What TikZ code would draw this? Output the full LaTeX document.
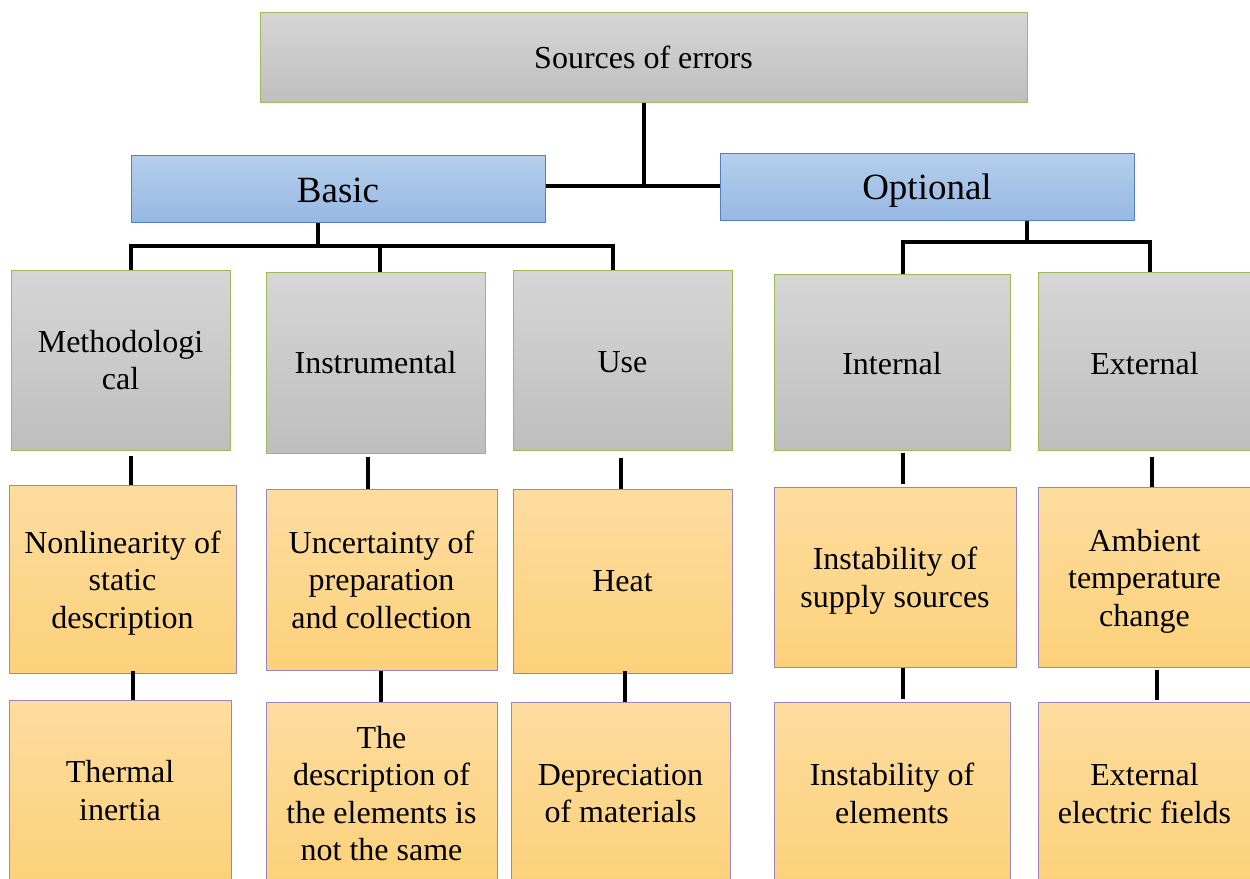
\documentclass[tikz,border=0pt]{standalone}
\usepackage{fontspec}
\newfontfamily\tnr{Liberation Serif}
\definecolor{grayT}{HTML}{D6D6D6}
\definecolor{grayB}{HTML}{BEBEBE}
\definecolor{grayLine}{HTML}{9BBB59}
\definecolor{blueT}{HTML}{B5CFEC}
\definecolor{blueB}{HTML}{97B8E3}
\definecolor{blueLine}{HTML}{4F81BD}
\definecolor{orT}{HTML}{FDDC9F}
\definecolor{orB}{HTML}{FCD17A}
\definecolor{orLine}{HTML}{9C85BD}
\tikzset{
  box/.style={rectangle, line width=1pt, align=center, inner sep=0pt,
    font=\tnr\fontsize{32}{37.5}\selectfont},
  graybox/.style={box, draw=grayLine, top color=grayT, bottom color=grayB},
  bluebox/.style={box, draw=blueLine, top color=blueT, bottom color=blueB,
    font=\tnr\fontsize{37}{42}\selectfont},
  orbox/.style={box, draw=orLine, top color=orT, bottom color=orB},
  conn/.style={line width=4pt, black},
}
\begin{document}
\begin{tikzpicture}[x=1pt, y=-1pt]
\useasboundingbox (0,0) rectangle (1250,878);
\clip (0,0) rectangle (1250,878);
% top
\node[graybox, minimum width=767pt, minimum height=90pt] (src) at (643.5,57) {Sources of errors};
\node[bluebox, minimum width=414pt, minimum height=67pt, text height=29pt] (basic) at (338,188.5) {Basic};
\node[bluebox, minimum width=414pt, minimum height=67pt, text height=33pt] (opt) at (927,186.5) {Optional};
% level 2
\node[graybox, minimum width=219pt, minimum height=180pt] (meth) at (120.5,360) {Methodologi\\cal};
\node[graybox, minimum width=219pt, minimum height=181pt] (instr) at (375.5,362.5) {Instrumental};
\node[graybox, minimum width=219pt, minimum height=180pt, text height=25pt] (use) at (622.5,360) {Use};
\node[graybox, minimum width=236pt, minimum height=176pt, text height=26pt] (int) at (892,362) {Internal};
\node[graybox, minimum width=213pt, minimum height=178pt, text height=28pt] (ext) at (1144.5,361) {External};
% level 3
\node[orbox, minimum width=227pt, minimum height=188pt, text height=105pt] (nonlin) at (122.5,579) {Nonlinearity of\\static\\description};
\node[orbox, minimum width=231pt, minimum height=181pt] (unc) at (381.5,579.5) {Uncertainty of\\preparation\\and collection};
\node[orbox, minimum width=219pt, minimum height=184pt] (heat) at (622.5,581) {Heat};
\node[orbox, minimum width=242pt, minimum height=180pt, text height=67.5pt] (inss) at (895,577) {Instability of\\supply sources};
\node[orbox, minimum width=213pt, minimum height=180pt, text height=105pt] (amb) at (1144.5,577) {Ambient\\temperature\\change};
% level 4
\node[orbox, minimum width=222pt, minimum height=181pt] (therm) at (120,790.5) {Thermal\\inertia};
\node[orbox, minimum width=231pt, minimum height=183pt] (desc) at (381.5,793.5) {The\\description of\\the elements is\\not the same};
\node[orbox, minimum width=219pt, minimum height=183pt] (dep) at (620.5,793.5) {Depreciation\\of materials};
\node[orbox, minimum width=236pt, minimum height=183pt] (inse) at (892,793.5) {Instability of\\elements};
\node[orbox, minimum width=213pt, minimum height=183pt] (eef) at (1144.5,793.5) {External\\electric fields};
% junction coordinates
\coordinate (j0) at (644,186);
\coordinate (bj) at (318,246);
\coordinate (bL) at (131,246);
\coordinate (bM) at (380,246);
\coordinate (bR) at (613,246);
\coordinate (oj) at (1027,242);
\coordinate (oL) at (903,242);
\coordinate (oR) at (1150,242);
% top connectors
\draw[conn] (src.south -| j0) -- (j0);
\draw[conn] (basic.east |- j0) -- (opt.west |- j0);
% basic bus
\draw[conn] (basic.south -| bj) -- (bj);
\draw[conn, line cap=rect] (bL) -- (bR);
\draw[conn] (bL) -- (bL |- meth.north);
\draw[conn] (bM) -- (bM |- instr.north);
\draw[conn] (bR) -- (bR |- use.north);
% optional bus
\draw[conn] (opt.south -| oj) -- (oj);
\draw[conn, line cap=rect] (oL) -- (oR);
\draw[conn] (oL) -- (oL |- int.north);
\draw[conn] (oR) -- (oR |- ext.north);
% level 2 -> 3
\coordinate (c1) at (131,0);
\coordinate (c2) at (368,0);
\coordinate (c3) at (621,0);
\coordinate (c4) at (903,0);
\coordinate (c5) at (1152,0);
\draw[conn] ([yshift=-5pt]c1 |- meth.south) -- (c1 |- nonlin.north);
\draw[conn] ([yshift=-3pt]c2 |- instr.south) -- (c2 |- unc.north);
\draw[conn] ([yshift=-7pt]c3 |- use.south) -- (c3 |- heat.north);
\draw[conn] ([yshift=-2pt]c4 |- int.south) -- ([yshift=3pt]c4 |- inss.north);
\draw[conn] ([yshift=-6pt]c5 |- ext.south) -- (c5 |- amb.north);
% level 3 -> 4
\coordinate (d1) at (133,0);
\coordinate (d2) at (381,0);
\coordinate (d3) at (625,0);
\coordinate (d4) at (903,0);
\coordinate (d5) at (1157,0);
\draw[conn] ([yshift=3pt]d1 |- nonlin.south) -- (d1 |- therm.north);
\draw[conn] (d2 |- unc.south) -- (d2 |- desc.north);
\draw[conn] ([yshift=3pt]d3 |- heat.south) -- (d3 |- dep.north);
\draw[conn] (d4 |- inss.south) -- ([yshift=3pt]d4 |- inse.north);
\draw[conn] ([yshift=-2pt]d5 |- amb.south) -- ([yshift=2pt]d5 |- eef.north);
\end{tikzpicture}
\end{document}
